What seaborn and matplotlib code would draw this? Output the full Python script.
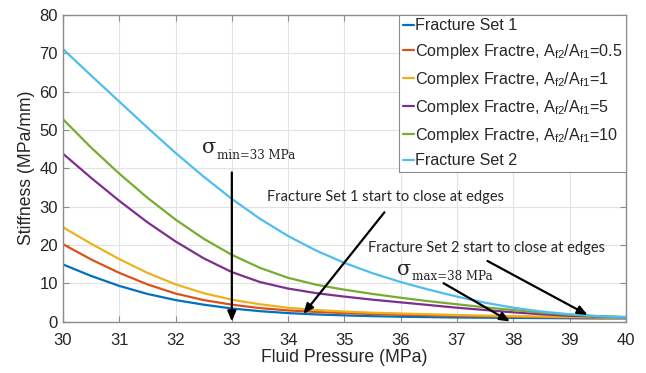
import numpy as np
import pandas as pd
import matplotlib
matplotlib.use("Agg")
import matplotlib.pyplot as plt
import seaborn as sns

# Fluid pressure samples (MPa)
pressure = [30.0, 30.5, 31.0, 31.5, 32.0, 32.5, 33.0, 33.5, 34.0, 34.5, 35.0,
            35.5, 36.0, 36.5, 37.0, 37.5, 38.0, 38.5, 39.0, 39.5, 40.0]

# Stiffness (MPa/mm) for each case
set1 = [14.9, 11.9, 9.3, 7.2, 5.6, 4.4, 3.4, 2.7, 2.2, 1.85, 1.6,
        1.4, 1.25, 1.15, 1.05, 1.0, 0.95, 0.9, 0.85, 0.8, 0.8]
ratio_05 = [20.2, 16.2, 12.7, 9.7, 7.3, 5.6, 4.4, 3.5, 2.9, 2.5, 2.2,
            1.95, 1.75, 1.6, 1.45, 1.35, 1.25, 1.15, 1.05, 1.0, 0.95]
ratio_1 = [24.6, 20.3, 16.3, 12.7, 9.7, 7.4, 5.7, 4.5, 3.6, 3.0, 2.6,
           2.3, 2.1, 1.9, 1.7, 1.55, 1.4, 1.3, 1.2, 1.1, 1.0]
ratio_5 = [43.8, 37.5, 31.5, 25.9, 20.9, 16.5, 12.9, 10.3, 8.6, 7.4, 6.5,
           5.7, 5.0, 4.3, 3.6, 3.0, 2.4, 1.9, 1.5, 1.3, 1.1]
ratio_10 = [52.8, 45.4, 38.6, 32.3, 26.6, 21.6, 17.4, 14.0, 11.4, 9.6, 8.3,
            7.2, 6.2, 5.3, 4.5, 3.7, 3.0, 2.3, 1.8, 1.4, 1.2]
set2 = [71.1, 64.2, 57.4, 50.6, 44.0, 37.8, 32.0, 26.8, 22.3, 18.5, 15.3,
        12.6, 10.3, 8.3, 6.5, 4.9, 3.6, 2.6, 1.9, 1.4, 1.1]

labels = [
    "Fracture Set 1",
    r"Complex Fractre, A$_{\mathrm{f2}}$/A$_{\mathrm{f1}}$=0.5",
    r"Complex Fractre, A$_{\mathrm{f2}}$/A$_{\mathrm{f1}}$=1",
    r"Complex Fractre, A$_{\mathrm{f2}}$/A$_{\mathrm{f1}}$=5",
    r"Complex Fractre, A$_{\mathrm{f2}}$/A$_{\mathrm{f1}}$=10",
    "Fracture Set 2",
]
colors = ["#0072BD", "#D95319", "#EDB120", "#7E2F8E", "#77AC30", "#4DBEEE"]

x_ticks = [30, 31, 32, 33, 34, 35, 36, 37, 38, 39, 40]
y_ticks = [0, 10, 20, 30, 40, 50, 60, 70, 80]

series = [set1, ratio_05, ratio_1, ratio_5, ratio_10, set2]
df = pd.concat(
    [pd.DataFrame({"pressure": pressure, "stiffness": s, "case": lab})
     for s, lab in zip(series, labels)],
    ignore_index=True,
)

sns.set_style("ticks")
plt.rcParams["font.family"] = ["Liberation Sans", "DejaVu Sans"]
plt.rcParams["mathtext.fontset"] = "custom"
plt.rcParams["mathtext.rm"] = "Liberation Sans"
plt.rcParams["mathtext.it"] = "Liberation Sans:italic"
plt.rcParams["mathtext.bf"] = "Liberation Sans:bold"

text_col = "#262626"
frame_col = "#8c8c8c"

fig = plt.figure(figsize=(6.46, 3.73), dpi=100)
ax = fig.add_axes([0.0974, 0.138, 0.8716, 0.822])

sns.lineplot(data=df, x="pressure", y="stiffness", hue="case",
             hue_order=labels, palette=colors, linewidth=1.6,
             ax=ax, legend=False, sort=False)

ax.set_xlim(30, 40)
ax.set_ylim(0, 80)
ax.set_xticks(x_ticks)
ax.set_yticks(y_ticks)
ax.grid(True, color="#e3e3e3", linewidth=0.8)
ax.set_axisbelow(True)
for sp in ax.spines.values():
    sp.set_visible(True)
    sp.set_color(frame_col)
    sp.set_linewidth(1.0)
ax.tick_params(direction="in", length=4, width=0.8, color=frame_col,
               labelcolor=text_col, labelsize=12, top=True, right=True)
ax.tick_params(axis="x", pad=8)
ax.tick_params(axis="y", pad=3.5)
ax.set_xlabel("Fluid Pressure (MPa)", fontsize=12.7, color=text_col, labelpad=1)
ax.set_ylabel("Stiffness (MPa/mm)", fontsize=12.7, color=text_col, labelpad=3)

handles = ax.get_lines()[:len(labels)]
leg = ax.legend(handles, labels, loc="upper right", bbox_to_anchor=(1.0, 1.0),
                borderaxespad=0, fontsize=11.6, handlelength=0.7,
                handletextpad=0.1, labelspacing=0.55, borderpad=0.2,
                fancybox=False, framealpha=1, edgecolor=frame_col)
leg.get_frame().set_linewidth(0.8)
for t in leg.get_texts():
    t.set_color(text_col)

note_font = ["Lato", "DejaVu Sans"]
arrow_kw = dict(arrowstyle="-|>,head_length=0.6,head_width=0.25",
                color="black", lw=1.6, shrinkA=0, shrinkB=0)


def sigma_label(x, y, sub):
    """Large sigma followed by a smaller lowered subscript."""
    sig = ax.text(x, y, "\u03c3", fontsize=15, family="DejaVu Serif",
                  va="center", ha="left")
    ax.annotate(sub, xy=(1.0, 0.12), xycoords=sig, xytext=(0.5, 0),
                textcoords="offset points", fontsize=8.6,
                family="DejaVu Serif", va="center", ha="left")


# sigma_min marker
sigma_label(32.47, 45.3, "min=33 MPa")
ax.annotate("", xy=(33.0, 0.0), xytext=(33.0, 38.9), arrowprops=arrow_kw)

# Fracture Set 1 closing
ax.text(33.62, 32.5, "Fracture Set 1 start to close at edges", fontsize=10.5,
        family=note_font, va="center", ha="left")
ax.annotate("", xy=(34.27, 1.96), xytext=(35.71, 28.5), arrowprops=arrow_kw)

# Fracture Set 2 closing
ax.text(35.41, 19.3, "Fracture Set 2 start to close at edges", fontsize=10.5,
        family=note_font, va="center", ha="left")
ax.annotate("", xy=(39.32, 1.7), xytext=(37.54, 15.8), arrowprops=arrow_kw)

# sigma_max marker
sigma_label(35.93, 13.7, "max=38 MPa")
ax.annotate("", xy=(37.94, 0.0), xytext=(36.76, 10.0), arrowprops=arrow_kw)

fig.savefig("out.png", dpi=100)
